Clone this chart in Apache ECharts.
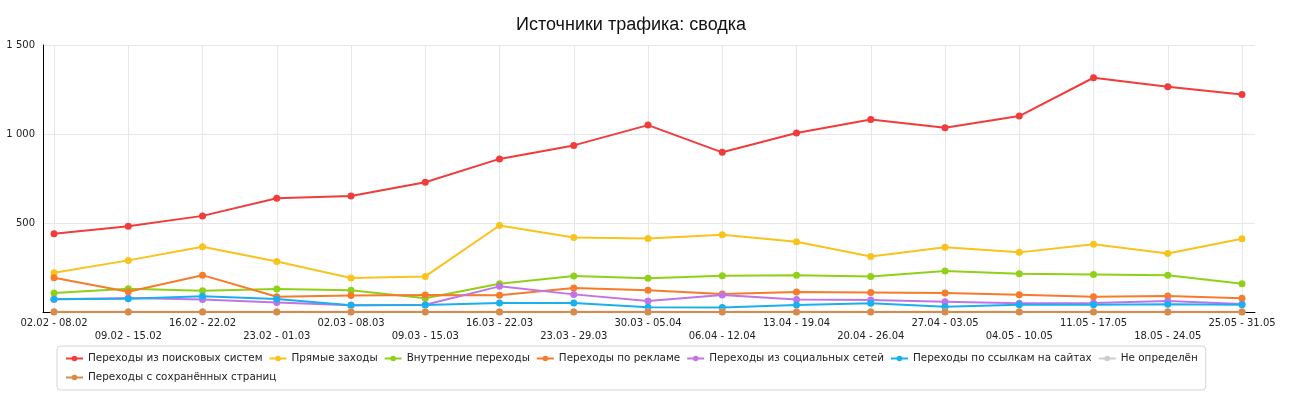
<!DOCTYPE html>
<html>
<head>
<meta charset="UTF-8">
<script src="https://cdn.jsdelivr.net/npm/echarts@6/dist/echarts.min.js"></script>
<style type="text/css">
html, body { margin: 0; padding: 0; background: #fff; }
#main { width: 1299px; height: 398px; }
</style>
</head>
<body>
<div id="main"></div>
<script type="text/javascript">
// недели
var weeks = ['02.02 - 08.02', '09.02 - 15.02', '16.02 - 22.02', '23.02 - 01.03', '02.03 - 08.03',
	'09.03 - 15.03', '16.03 - 22.03', '23.03 - 29.03', '30.03 - 05.04', '06.04 - 12.04', '13.04 - 19.04',
	'20.04 - 26.04', '27.04 - 03.05', '04.05 - 10.05', '11.05 - 17.05', '18.05 - 24.05', '25.05 - 31.05'];

var searchData   = [439, 482, 540, 639, 652, 729, 860, 936, 1050, 897, 1006, 1082, 1035, 1101, 1316, 1265, 1222];
var directData   = [221, 290, 367, 284, 191, 200, 486, 419, 413, 434, 395, 312, 364, 335, 381, 329, 411];
var internalData = [107, 131, 120, 129, 122, 77, 159, 202, 189, 204, 207, 200, 230, 215, 211, 207, 159];
var adsData      = [193, 114, 207, 86, 92, 95, 94, 135, 122, 101, 112, 110, 107, 97, 86, 90, 77];
var socialData   = [71, 78, 70, 53, 38, 41, 144, 99, 62, 95, 70, 67, 58, 49, 50, 62, 45];
var linksData    = [71, 75, 88, 73, 38, 39, 50, 50, 26, 25, 39, 49, 30, 41, 41, 43, 41];
var unknownData  = [1, 1, 1, 1, 1, 1, 1, 1, 1, 1, 1, 1, 1, 1, 1, 1, 1];
var savedData    = [0, 0, 0, 0, 0, 0, 0, 0, 0, 0, 0, 0, 0, 0, 0, 0, 0];

var yTicks = [0, 500, 1000, 1500];

var seriesList = [
	{name: 'Переходы из поисковых систем', data: searchData, color: '#f23b3b'},
	{name: 'Прямые заходы', data: directData, color: '#f8c31c'},
	{name: 'Внутренние переходы', data: internalData, color: '#8fd118'},
	{name: 'Переходы по рекламе', data: adsData, color: '#f67b2a'},
	{name: 'Переходы из социальных сетей', data: socialData, color: '#c274e6'},
	{name: 'Переходы по ссылкам на сайтах', data: linksData, color: '#1ab0ee'},
	{name: 'Не определён', data: unknownData, color: '#cccccc'},
	{name: 'Переходы с сохранённых страниц', data: savedData, color: '#d98a48'}
];

var myChart = echarts.init(document.getElementById('main'));

var series = seriesList.map(function (s) {
	return {
		name: s.name,
		type: 'line',
		xAxisIndex: 1,
		yAxisIndex: 1,
		data: s.data,
		symbol: 'circle',
		symbolSize: 7,
		showSymbol: true,
		clip: false,
		color: s.color,
		lineStyle: {width: 2, color: s.color},
		itemStyle: {color: s.color},
		emphasis: {disabled: true}
	};
});

var option = {
	animation: false,
	backgroundColor: '#fff',
	title: {
		text: 'Источники трафика: сводка',
		left: 511,
		top: 11,
		textStyle: {fontFamily: 'Liberation Sans', fontSize: 18, fontWeight: 'normal', color: '#111'}
	},
	legend: {
		data: seriesList.map(function (s) { return s.name; }),
		left: 57,
		top: 346,
		width: 1140,
		orient: 'horizontal',
		align: 'left',
		padding: [6, 8, 6, 8],
		itemGap: 6,
		itemWidth: 17,
		itemHeight: 7,
		borderColor: '#d4d4d4',
		borderWidth: 1,
		borderRadius: 4,
		textStyle: {fontFamily: 'DejaVu Sans', fontSize: 10.4, lineHeight: 13, color: '#222'}
	},
	grid: [
		// рамка: ось Y и линия оси X
		{left: 43, right: 44, top: 45, bottom: 86},
		// точки по неделям
		{left: 54, right: 57, top: 45, bottom: 86}
	],
	xAxis: [
		{
			type: 'value', gridIndex: 0, min: 0, max: 1,
			axisLine: {show: true, lineStyle: {color: '#000', width: 1}},
			axisTick: {show: false}, axisLabel: {show: false}, splitLine: {show: false}
		},
		{
			type: 'category', gridIndex: 1, data: weeks, boundaryGap: false,
			axisLine: {show: false}, axisTick: {show: false},
			splitLine: {show: true, lineStyle: {color: '#e8e8e8', width: 1}},
			axisLabel: {
				interval: 0,
				margin: 5,
				fontFamily: 'DejaVu Sans',
				fontSize: 10,
				lineHeight: 13,
				color: '#222',
				formatter: function (v, i) { return i % 2 ? '\n' + v : v; }
			}
		}
	],
	yAxis: [
		{
			type: 'value', gridIndex: 0, min: yTicks[0], max: yTicks[yTicks.length - 1], interval: 500,
			axisLine: {show: true, lineStyle: {color: '#000', width: 1}},
			axisTick: {show: false},
			splitLine: {show: true, lineStyle: {color: '#e8e8e8', width: 1}},
			axisLabel: {
				margin: 8,
				fontFamily: 'DejaVu Sans',
				fontSize: 10,
				color: '#222',
				formatter: function (v) {
					if (v === 0) return '';
					return String(v).replace(/\B(?=(\d{3})+(?!\d))/g, ' ');
				}
			}
		},
		{
			type: 'value', gridIndex: 1, min: yTicks[0], max: yTicks[yTicks.length - 1], interval: 500,
			show: false, splitLine: {show: false}
		}
	],
	series: series
};

myChart.setOption(option);
</script>
</body>
</html>
